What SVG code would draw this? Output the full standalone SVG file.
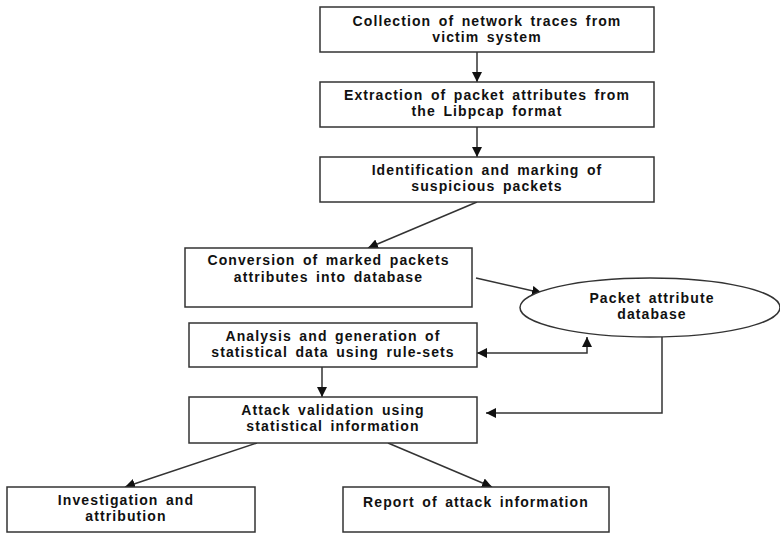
<svg xmlns="http://www.w3.org/2000/svg" width="780" height="533" viewBox="0 0 780 533">
  <defs>
    <marker id="arrow" viewBox="0 0 10 10" refX="10" refY="5" markerWidth="10" markerHeight="10" markerUnits="userSpaceOnUse" orient="auto-start-reverse">
      <path d="M0,0 L10,5 L0,10 Z" fill="#111"/>
    </marker>
    <style>
      .box { fill: #fff; stroke: #333; stroke-width: 1.5; }
      .lbl { font-family: "Liberation Sans", Arial, sans-serif; font-weight: bold; font-size: 14px; letter-spacing: 1.1px; word-spacing: 2.5px; fill: #111; text-anchor: middle; }
      .edge { fill: none; stroke: #333; stroke-width: 1.5; }
    </style>
  </defs>
  <rect width="780" height="533" fill="#fff"/>

  <g id="connectors">
    <line class="edge" x1="477" y1="52" x2="477" y2="82" marker-end="url(#arrow)"/>
    <line class="edge" x1="477" y1="127" x2="477" y2="157" marker-end="url(#arrow)"/>
    <line class="edge" x1="477" y1="202" x2="368" y2="248" marker-end="url(#arrow)"/>
    <line class="edge" x1="476" y1="278" x2="542" y2="293" marker-end="url(#arrow)"/>
    <polyline class="edge" points="477,353 587,353 587,337" marker-start="url(#arrow)" marker-end="url(#arrow)"/>
    <polyline class="edge" points="662,337 662,413 486,413" marker-end="url(#arrow)"/>
    <line class="edge" x1="322" y1="367" x2="322" y2="397" marker-end="url(#arrow)"/>
    <line class="edge" x1="257" y1="443" x2="125" y2="487" marker-end="url(#arrow)"/>
    <line class="edge" x1="388" y1="443" x2="492" y2="487" marker-end="url(#arrow)"/>
  </g>

  <g id="collection">
    <rect class="box" x="320" y="7" width="334" height="45"/>
    <text class="lbl" x="487" y="26">Collection of network traces from</text>
    <text class="lbl" x="487" y="42">victim system</text>
  </g>

  <g id="extraction">
    <rect class="box" x="320" y="82" width="334" height="45"/>
    <text class="lbl" x="487" y="100">Extraction of packet attributes from</text>
    <text class="lbl" x="487" y="116">the Libpcap format</text>
  </g>

  <g id="identification">
    <rect class="box" x="320" y="157" width="334" height="45"/>
    <text class="lbl" x="487" y="175">Identification and marking of</text>
    <text class="lbl" x="487" y="191">suspicious packets</text>
  </g>

  <g id="conversion">
    <rect class="box" x="185" y="248" width="287" height="59"/>
    <text class="lbl" x="328.5" y="265">Conversion of marked packets</text>
    <text class="lbl" x="328.5" y="282">attributes into database</text>
  </g>

  <g id="database">
    <ellipse class="box" cx="650" cy="307.5" rx="130" ry="29.5"/>
    <text class="lbl" x="652" y="303">Packet attribute</text>
    <text class="lbl" x="652" y="319">database</text>
  </g>

  <g id="analysis">
    <rect class="box" x="189" y="323" width="288" height="44"/>
    <text class="lbl" x="333" y="341">Analysis and generation of</text>
    <text class="lbl" x="333" y="357">statistical data using rule-sets</text>
  </g>

  <g id="validation">
    <rect class="box" x="189" y="397" width="288" height="46"/>
    <text class="lbl" x="333" y="415">Attack validation using</text>
    <text class="lbl" x="333" y="431">statistical information</text>
  </g>

  <g id="investigation">
    <rect class="box" x="7" y="487" width="248" height="45"/>
    <text class="lbl" x="126" y="505">Investigation and</text>
    <text class="lbl" x="126" y="521">attribution</text>
  </g>

  <g id="report">
    <rect class="box" x="343" y="487" width="266" height="45"/>
    <text class="lbl" x="476" y="507">Report of attack information</text>
  </g>
</svg>
